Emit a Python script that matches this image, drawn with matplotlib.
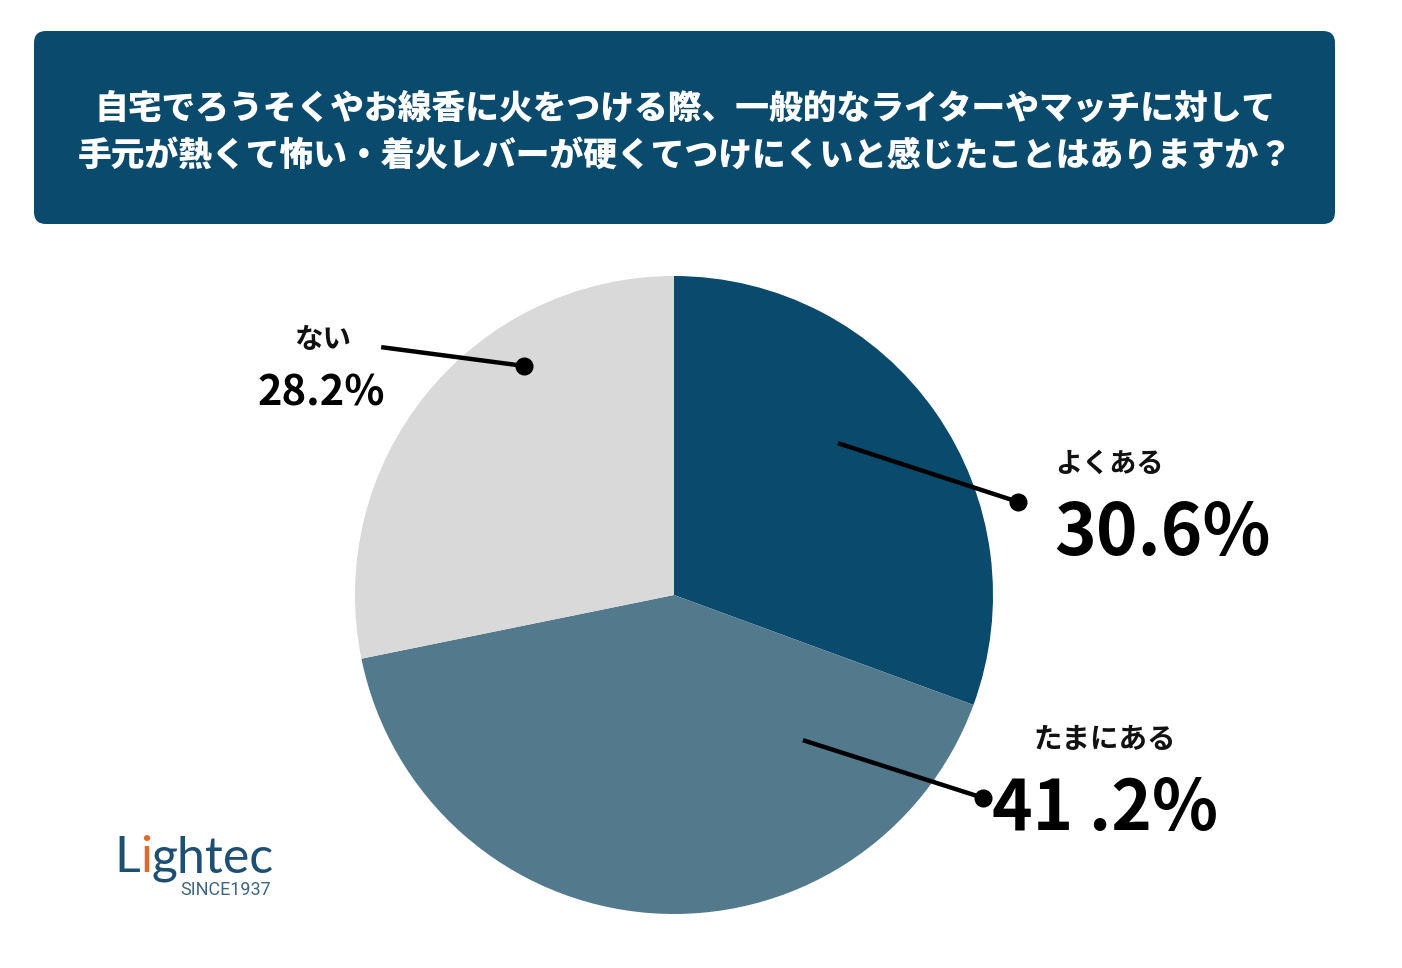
import matplotlib.pyplot as plt
from matplotlib.patches import FancyBboxPatch
from matplotlib.transforms import IdentityTransform
from matplotlib.offsetbox import TextArea, HPacker, AnnotationBbox

plt.rcParams['font.family'] = ['Noto Sans CJK JP', 'DejaVu Sans']

title_lines = [
    "自宅でろうそくやお線香に火をつける際、一般的なライターやマッチに対して",
    "手元が熱くて怖い・着火レバーが硬くてつけにくいと感じたことはありますか？",
]
labels = ["よくある", "たまにある", "ない"]
values = [30.6, 41.2, 28.2]
value_texts = ["30.6%", "41 .2%", "28.2%"]
colors = ["#0a4a6c", "#53798d", "#d9d9d9"]

W, H = 1402, 968
fig = plt.figure(figsize=(W / 100, H / 100), dpi=100)


def fx(x):
    return x / W


def fy(y):
    return 1 - y / H


# title box
box = FancyBboxPatch((34 + 12, H - 224 + 12), 1301 - 24, 193 - 24,
                     boxstyle="round,pad=12", facecolor="#0a4a6c",
                     edgecolor="none", transform=IdentityTransform(),
                     figure=fig)
fig.patches.append(box)
for line, yb in zip(title_lines, [118, 166]):
    fig.text(fx(685), fy(yb), line, color="white", fontsize=24.3,
             fontweight="heavy", ha="center", va="baseline")

# pie
cx, cy, r = 674, 595, 319
ax = fig.add_axes([fx(cx - r), fy(cy + r), 2 * r / W, 2 * r / H])
ax.pie(values, colors=colors, startangle=90, counterclock=False, radius=1,
       wedgeprops=dict(linewidth=0))
ax.set_xlim(-1, 1)
ax.set_ylim(-1, 1)
ax.set_aspect("equal")
ax.axis("off")

# leader lines: (inner point, dot point) in pie units
leaders = [((0.514, 0.476), (1.078, 0.292)),
           ((0.404, -0.455), (0.969, -0.636)),
           ((-0.918, 0.777), (-0.470, 0.718))]
for (x0, y0), (x1, y1) in leaders:
    ax.plot([x0, x1], [y0, y1], color="black", lw=3.2, clip_on=False,
            solid_capstyle="butt")
    ax.plot([x1], [y1], "o", color="black", ms=12, clip_on=False)

# label layout: (label x, label baseline, value x, value baseline, label size, value size)
layout = [(1055, 472, 1054, 555, 19.5, 51),
          (1034, 748, 992, 830, 20.5, 49.5),
          (294, 348, 258, 406, 20.5, 30)]
for lab, vt, (lx, ly, vx, vy, ls, vs) in zip(labels, value_texts, layout):
    fig.text(fx(lx), fy(ly), lab, fontsize=ls, fontweight="bold",
             color="#111111", ha="left", va="baseline")
    fig.text(fx(vx), fy(vy), vt, fontsize=vs, fontweight="bold",
             color="black", ha="left", va="baseline")

# logo
logo_blue = "#1d4f72"
logo_font = dict(fontsize=36, family="Lato")
parts = [TextArea("L", textprops=dict(color=logo_blue, **logo_font)),
         TextArea("i", textprops=dict(color="#e06a2a", **logo_font)),
         TextArea("ghtec", textprops=dict(color=logo_blue, **logo_font))]
pack = HPacker(children=parts, pad=0, sep=0)
ab = AnnotationBbox(pack, (fx(114), fy(882)), xycoords="figure fraction",
                    box_alignment=(0, 0), frameon=False, pad=0)
fig.add_artist(ab)
fig.text(fx(180), fy(895), "SINCE1937", color="#3f6680", fontsize=13,
         family="Roboto", ha="left", va="baseline")

fig.savefig("out.png", dpi=100)
